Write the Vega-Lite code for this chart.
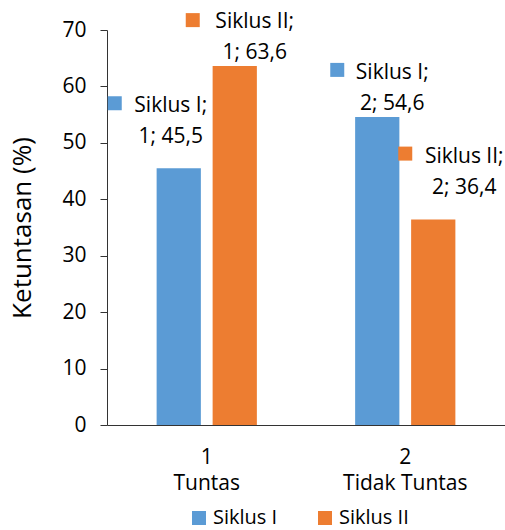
{
  "$schema": "https://vega.github.io/schema/vega-lite/v6.json",
  "width": 398,
  "height": 395,
  "autosize": "none",
  "padding": {"left": 107, "top": 30, "right": 0, "bottom": 105},
  "background": "white",
  "config": {
    "view": {"stroke": null},
    "font": "Open Sans",
    "axis": {"labelFont": "Open Sans", "titleFont": "Open Sans", "labelColor": "#000", "titleColor": "#000", "domainColor": "#333", "tickColor": "#333"}
  },
  "data": {
    "values": [
      {"no": 1, "kategori": "Tuntas", "siklus": "Siklus I", "nilai": 45.5},
      {"no": 1, "kategori": "Tuntas", "siklus": "Siklus II", "nilai": 63.6},
      {"no": 2, "kategori": "Tidak Tuntas", "siklus": "Siklus I", "nilai": 54.6},
      {"no": 2, "kategori": "Tidak Tuntas", "siklus": "Siklus II", "nilai": 36.4}
    ]
  },
  "transform": [
    {"calculate": "[datum.siklus + ';', datum.no + '; ' + replace(format(datum.nilai, '.1f'), '.', ',')]", "as": "lbl"}
  ],
  "encoding": {
    "x": {
      "field": "kategori", "type": "nominal", "sort": ["Tuntas", "Tidak Tuntas"],
      "scale": {"paddingInner": 0.495, "paddingOuter": 0.25},
      "axis": {"title": null, "labelAngle": 0, "ticks": false, "labelFontSize": 21, "labelLineHeight": 26, "labelPadding": 21, "labelBaseline": "top",
        "labelExpr": "datum.label == 'Tuntas' ? ['1', 'Tuntas'] : ['2', 'Tidak Tuntas']"}
    },
    "y": {
      "field": "nilai", "type": "quantitative",
      "scale": {"domain": [0, 70], "nice": false},
      "axis": {"title": "Ketuntasan (%)", "titleFontSize": 26, "titleFontWeight": "normal", "titlePadding": 26, "values": [0, 10, 20, 30, 40, 50, 60, 70], "labelOverlap": false, "grid": false, "tickSize": 7, "labelPadding": 14, "labelFontSize": 21}
    }
  },
  "layer": [
    {
      "mark": {"type": "bar"},
      "encoding": {
        "xOffset": {"field": "siklus", "type": "nominal", "scale": {"paddingInner": 0.21, "paddingOuter": 0}},
        "color": {
          "field": "siklus", "type": "nominal",
          "scale": {"domain": ["Siklus I", "Siklus II"], "range": ["#5B9BD5", "#ED7D31"]},
          "legend": {"title": null, "orient": "none", "legendX": 82, "legendY": 478, "direction": "horizontal", "symbolType": "square", "symbolSize": 196, "symbolStrokeWidth": 0, "labelFontSize": 20, "labelFont": "Open Sans", "labelColor": "#000", "columnPadding": 37, "labelOffset": 4}
        }
      }
    },
    {
      "transform": [{"filter": "datum.no == 1 && datum.siklus == 'Siklus I'"}],
      "mark": {"type": "text", "fontSize": 21, "align": "center", "baseline": "alphabetic", "lineHeight": 31, "dx": -8, "dy": -56, "color": "#000"},
      "encoding": {"xOffset": {"field": "siklus", "type": "nominal"}, "text": {"field": "lbl", "type": "nominal"}}
    },
    {
      "transform": [{"filter": "datum.no == 1 && datum.siklus == 'Siklus II'"}],
      "mark": {"type": "text", "fontSize": 21, "align": "center", "baseline": "alphabetic", "lineHeight": 31, "dx": 20, "dy": -38, "color": "#000"},
      "encoding": {"xOffset": {"field": "siklus", "type": "nominal"}, "text": {"field": "lbl", "type": "nominal"}}
    },
    {
      "transform": [{"filter": "datum.no == 2 && datum.siklus == 'Siklus I'"}],
      "mark": {"type": "text", "fontSize": 21, "align": "center", "baseline": "alphabetic", "lineHeight": 31, "dx": 15, "dy": -38, "color": "#000"},
      "encoding": {"xOffset": {"field": "siklus", "type": "nominal"}, "text": {"field": "lbl", "type": "nominal"}}
    },
    {
      "transform": [{"filter": "datum.no == 2 && datum.siklus == 'Siklus II'"}],
      "mark": {"type": "text", "fontSize": 21, "align": "center", "baseline": "alphabetic", "lineHeight": 31, "dx": 31, "dy": -57, "color": "#000"},
      "encoding": {"xOffset": {"field": "siklus", "type": "nominal"}, "text": {"field": "lbl", "type": "nominal"}}
    },
    {
      "transform": [{"filter": "datum.no == 1 && datum.siklus == 'Siklus I'"}],
      "mark": {"type": "point", "shape": "square", "filled": true, "opacity": 1, "size": 196, "xOffset": -92, "yOffset": -65},
      "encoding": {"color": {"field": "siklus", "type": "nominal", "legend": null}}
    },
    {
      "transform": [{"filter": "datum.no == 1 && datum.siklus == 'Siklus II'"}],
      "mark": {"type": "point", "shape": "square", "filled": true, "opacity": 1, "size": 196, "xOffset": -14, "yOffset": -46},
      "encoding": {"color": {"field": "siklus", "type": "nominal", "legend": null}}
    },
    {
      "transform": [{"filter": "datum.no == 2 && datum.siklus == 'Siklus I'"}],
      "mark": {"type": "point", "shape": "square", "filled": true, "opacity": 1, "size": 196, "xOffset": -68, "yOffset": -47},
      "encoding": {"color": {"field": "siklus", "type": "nominal", "legend": null}}
    },
    {
      "transform": [{"filter": "datum.no == 2 && datum.siklus == 'Siklus II'"}],
      "mark": {"type": "point", "shape": "square", "filled": true, "opacity": 1, "size": 196, "xOffset": 0, "yOffset": -66},
      "encoding": {"color": {"field": "siklus", "type": "nominal", "legend": null}}
    }
  ]
}
